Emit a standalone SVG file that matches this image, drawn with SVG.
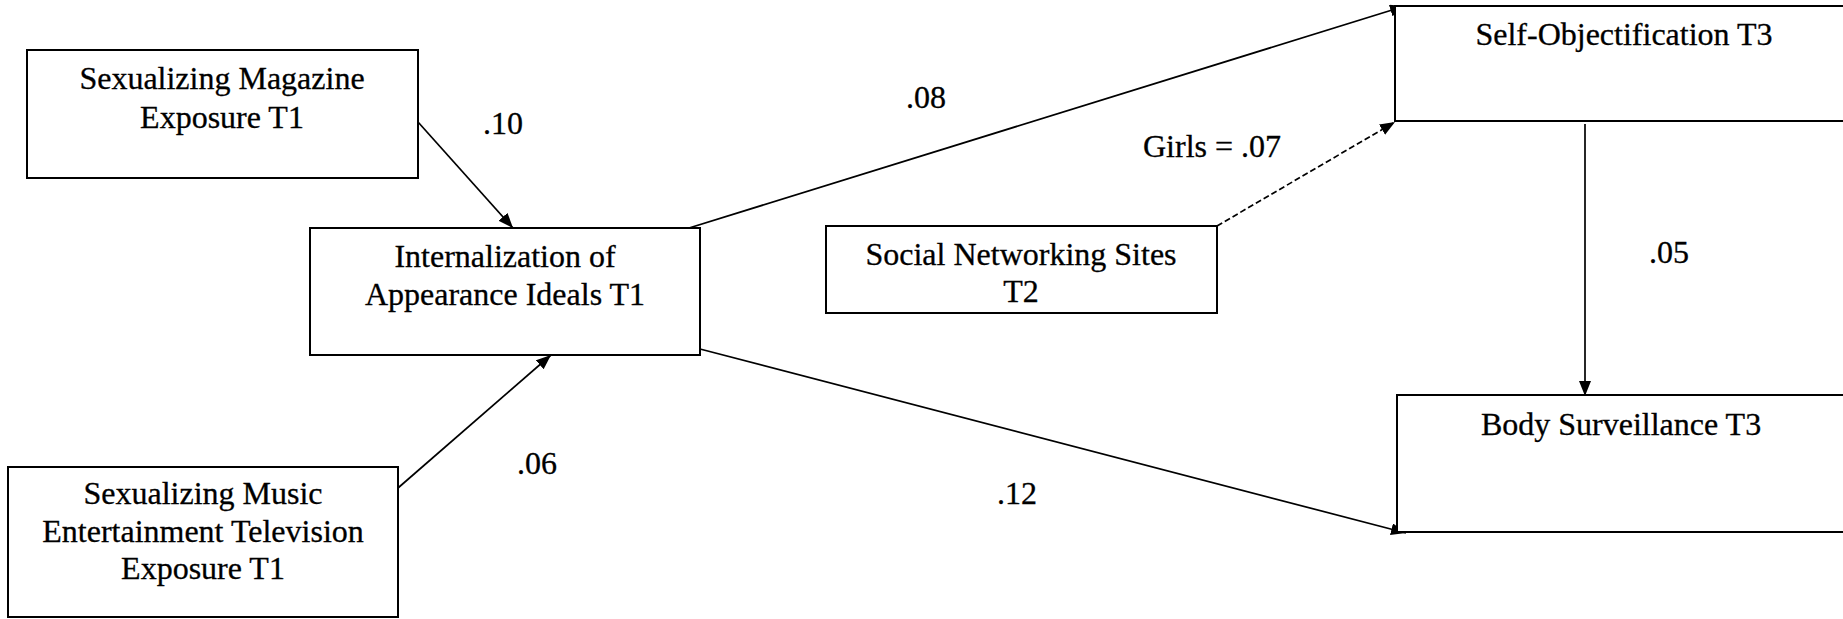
<svg xmlns="http://www.w3.org/2000/svg" width="1843" height="619" viewBox="0 0 1843 619">
<style>
.box{fill:#fff;stroke:#000;stroke-width:2}
.rbox{fill:#fff;stroke:#000;stroke-width:2}
.t{font-family:"Liberation Serif","Times New Roman",serif;font-size:32px;fill:#000;stroke:#000;stroke-width:0.3}
.c{text-anchor:middle}
.edge{stroke:#000;stroke-width:1.7;fill:none}
.dash{stroke-dasharray:6 3}
</style>
<defs>
<marker id="arr" markerUnits="userSpaceOnUse" markerWidth="16" markerHeight="13" refX="15" refY="6" orient="auto">
<path d="M0,0 L15,6 L0,12 z" fill="#000"/>
</marker>
</defs>
<rect width="1843" height="619" fill="#fff"/>
<g id="connectors">
<line class="edge" x1="418" y1="122" x2="513" y2="228" marker-end="url(#arr)"/>
<line class="edge" x1="398" y1="488" x2="551" y2="355" marker-end="url(#arr)"/>
<line class="edge" x1="689" y1="228" x2="1405" y2="6" marker-end="url(#arr)"/>
<line class="edge" x1="700" y1="349" x2="1406" y2="533" marker-end="url(#arr)"/>
<line class="edge dash" x1="1217" y1="226" x2="1395" y2="122" marker-end="url(#arr)"/>
<line class="edge" x1="1585" y1="124" x2="1585" y2="396" marker-end="url(#arr)"/>
<text class="t c" x="503" y="134">.10</text>
<text class="t c" x="537" y="474">.06</text>
<text class="t c" x="926" y="108">.08</text>
<text class="t" x="1143" y="157">Girls = .07</text>
<text class="t c" x="1017" y="504">.12</text>
<text class="t c" x="1669" y="263">.05</text>
</g>
<g id="magazine">
<rect class="box" x="27" y="50" width="391" height="128"/>
<text class="t c" x="222" y="89">Sexualizing Magazine</text>
<text class="t c" x="222" y="128">Exposure T1</text>
</g>
<g id="internalization">
<rect class="box" x="310" y="228" width="390" height="127"/>
<text class="t c" x="505" y="267">Internalization of</text>
<text class="t c" x="505" y="305">Appearance Ideals T1</text>
</g>
<g id="music">
<rect class="box" x="8" y="467" width="390" height="150"/>
<text class="t c" x="203" y="504">Sexualizing Music</text>
<text class="t c" x="203" y="542">Entertainment Television</text>
<text class="t c" x="203" y="579">Exposure T1</text>
</g>
<g id="sns">
<rect class="box" x="826" y="226" width="391" height="87"/>
<text class="t c" x="1021" y="265">Social Networking Sites</text>
<text class="t c" x="1021" y="302">T2</text>
</g>
<g id="selfobj">
<rect class="rbox" x="1395" y="6" width="462" height="115"/>
<text class="t c" x="1624" y="45">Self-Objectification T3</text>
</g>
<g id="surveillance">
<rect class="rbox" x="1397" y="395" width="462" height="137"/>
<text class="t c" x="1621" y="435">Body Surveillance T3</text>
</g>
</svg>
